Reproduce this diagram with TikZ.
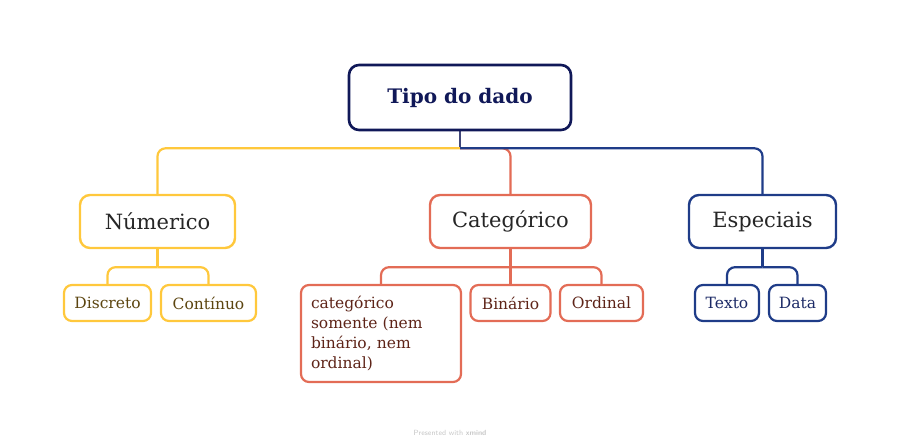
\documentclass[tikz,border=0pt]{standalone}
\usepackage{fontspec}
\setmainfont{DejaVu Serif}
\usetikzlibrary{positioning, backgrounds}
\definecolor{rootcol}{HTML}{101858}
\definecolor{numcol}{HTML}{FFC83C}
\definecolor{catcol}{HTML}{E36C56}
\definecolor{espcol}{HTML}{1F3C88}
\definecolor{numtxt}{HTML}{5C4510}
\definecolor{cattxt}{HTML}{5E2418}
\definecolor{esptxt}{HTML}{1C2A66}
\tikzset{
  topic/.style={draw, line width=2.4pt, fill=white, rounded corners=10pt, text=black!85, font=\fontsize{21}{24}\selectfont, minimum height=53pt},
  subtopic/.style={draw, line width=2.2pt, fill=white, rounded corners=8pt, font=\fontsize{15.5}{20}\selectfont, minimum height=36pt, inner sep=3pt},
  branch/.style={line width=2.2pt, rounded corners=8pt}
}
\begin{document}
\begin{tikzpicture}[x=1pt, y=-1pt]
  \useasboundingbox (0,0) rectangle (900,446);
  % central topic
  \node[draw=rootcol, line width=2.6pt, fill=white, rounded corners=10pt, text=rootcol,
        font=\fontsize{20}{24}\selectfont\bfseries, minimum width=222pt, minimum height=65pt] (root) at (460,97.5) {Tipo do dado};
  % main topics
  \node[topic, draw=numcol, minimum width=155pt] (num) at (157.5,221.5) {Númerico};
  \node[topic, draw=catcol, minimum width=161pt] (cat) at (510.5,221.5) {Categórico};
  \node[topic, draw=espcol, minimum width=147pt] (esp) at (762.5,221.5) {Especiais};
  % subtopics
  \node[subtopic, draw=numcol, text=numtxt, minimum width=87pt] (disc) at (107.5,303) {Discreto};
  \node[subtopic, draw=numcol, text=numtxt, minimum width=95pt] (cont) at (208.5,303) {Contínuo};
  \node[subtopic, draw=catcol, text=cattxt, minimum width=160pt, minimum height=97pt, text width=140pt, align=left] (soment) at (381,333.5) {categórico\\somente (nem\\binário, nem\\ordinal)};
  \node[subtopic, draw=catcol, text=cattxt, minimum width=80pt] (bin) at (510.5,303) {Binário};
  \node[subtopic, draw=catcol, text=cattxt, minimum width=83pt] (ord) at (601.5,303) {Ordinal};
  \node[subtopic, draw=espcol, text=esptxt, minimum width=64pt] (txt) at (727,303) {Texto};
  \node[subtopic, draw=espcol, text=esptxt, minimum width=57pt] (dat) at (797.5,303) {Data};
  % junctions
  \coordinate[below=17pt of root.south] (rootj);
  \coordinate[below=18pt of num.south] (numj);
  \coordinate[below=18pt of cat.south] (catj);
  \coordinate[below=18pt of esp.south] (espj);
  \begin{scope}[on background layer]
    % branches from the central topic
    \draw[branch, draw=rootcol!80] (root.south) -- (rootj);
    \draw[branch, draw=numcol] (rootj) -| (num.north);
    \draw[branch, draw=catcol] (rootj) -| (cat.north);
    \draw[branch, draw=espcol] (rootj) -| (esp.north);
    % branches to subtopics
    \draw[branch, draw=numcol] (num.south) -- (numj);
    \draw[branch, draw=numcol] (numj) -| (disc.north);
    \draw[branch, draw=numcol] (numj) -| (cont.north);
    \draw[branch, draw=catcol] (cat.south) -- (bin.north);
    \draw[branch, draw=catcol] (catj) -| (soment.north);
    \draw[branch, draw=catcol] (catj) -| (ord.north);
    \draw[branch, draw=espcol] (esp.south) -- (espj);
    \draw[branch, draw=espcol] (espj) -| (txt.north);
    \draw[branch, draw=espcol] (espj) -| (dat.north);
  \end{scope}
  \node[text=black!22, font=\fontsize{7.5}{8}\sffamily] (mark) at (450,433) {Presented with \textbf{xmind}};
\end{tikzpicture}
\end{document}
